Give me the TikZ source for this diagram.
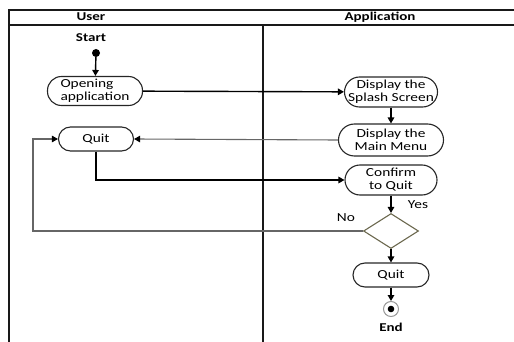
\documentclass[tikz,border=0pt]{standalone}
\usepackage{fontspec}
\setmainfont{Carlito}[FakeStretch=1.25]
\usetikzlibrary{arrows.meta,shapes.geometric}
\begin{document}
\begin{tikzpicture}[x=1pt,y=-1pt,
  font=\fontsize{12.3}{13}\selectfont,
  lane/.style={line width=1.8pt,draw=black!90},
  act/.style={draw=black!85,line width=1.1pt,rounded corners=13pt,align=center,inner sep=1pt},
  tip/.style={-{Triangle[length=6pt,width=6.5pt,color=black]}},
  flow/.style={line width=1.4pt,tip},
  back/.style={draw=black!60,line width=1.1pt},
  lbl/.style={font=\fontsize{12}{13}\selectfont\bfseries}]
\useasboundingbox (0,0) rectangle (514,342);

% swimlane frame
\draw[lane] (9,342) -- (9,10) -- (514,10);
\draw[lane] (9,25) -- (514,25);
\draw[lane] (263,25) -- (263,342);
\node[lbl] (huser) at (91,17) {User};
\node[lbl] (happ) at (380,17) {Application};

% initial node
\node[lbl] (startlbl) at (91,38) {Start};
\node[circle,fill=black,minimum size=8pt,inner sep=0pt] (start) at (96,53) {};

% activities
\node[act,minimum width=95pt,minimum height=29pt,align=left,rounded corners=14pt] (open) at (95,91) {Opening\\application};
\node[act,minimum width=93pt,minimum height=30pt,rounded corners=15pt] (splash) at (391,92) {Display the\\Splash Screen};
\node[act,minimum width=105pt,minimum height=32pt,rounded corners=16pt] (menu) at (391,140) {Display the\\Main Menu};
\node[act,minimum width=75pt,minimum height=24pt,rounded corners=12pt] (quitu) at (96,139) {Quit};
\node[act,minimum width=92pt,minimum height=30pt,rounded corners=15pt] (confirm) at (391,180) {Confirm\\to Quit};
\node[diamond,draw=black!55!olive!60!gray,line width=1.1pt,minimum width=55pt,minimum height=35pt,inner sep=0pt] (dec) at (391,231) {};
\node[act,minimum width=76pt,minimum height=24pt,rounded corners=12pt] (quita) at (391,275) {Quit};

% final node
\node[circle,draw=black!40,line width=1pt,minimum size=15pt,inner sep=0pt] (end) at (391,309) {};
\fill[black] (end.center) circle (3.3pt);
\node[lbl] (endlbl) at (391,327) {End};

% guard labels
\node (yes) at (418,205) {Yes};
\node (no) at (346,218) {No};

% control flow
\coordinate (loop) at (33,231);
\draw[flow] (start) -- (open);
\draw[flow] (open) -- (splash);
\draw[flow] (splash) -- (menu);
\draw[back,tip] (menu.west) -- (quitu.east);
\draw[flow] (quitu.south) |- (confirm.west);
\draw[flow] (confirm) -- (dec);
\draw[back,tip] (dec.west) -- (loop) |- (quitu.west);
\draw[flow] (dec) -- (quita);
\draw[flow] (quita) -- (end);
\end{tikzpicture}
\end{document}
